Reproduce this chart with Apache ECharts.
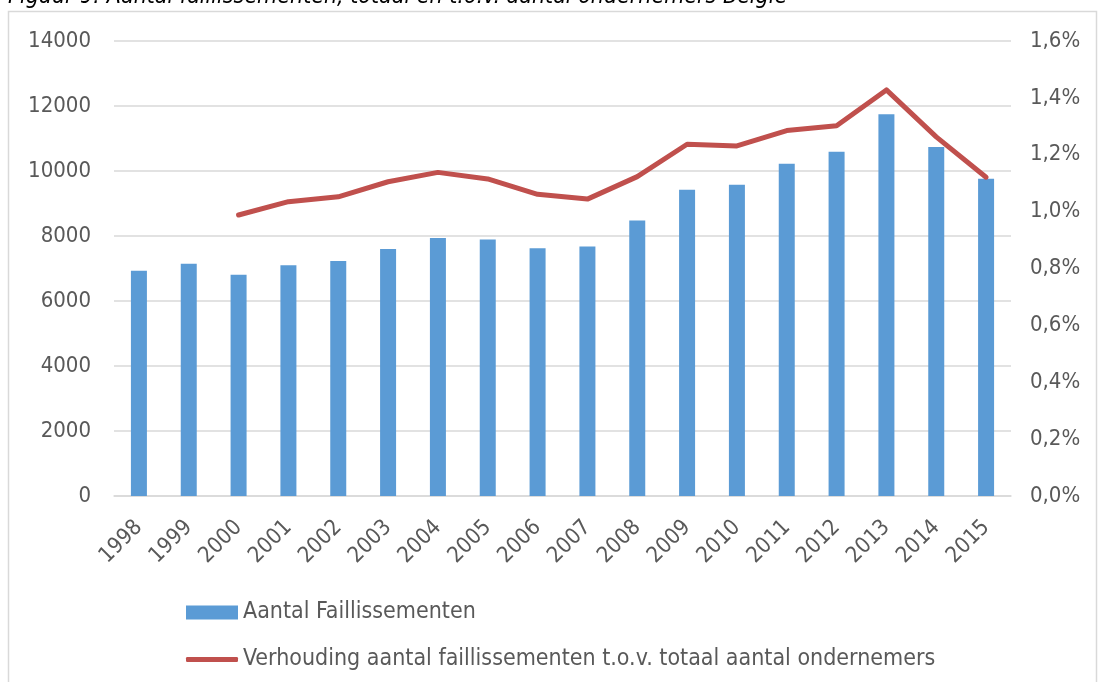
<!DOCTYPE html>
<html>
<head>
<meta charset="utf-8">
<script src="https://cdn.jsdelivr.net/npm/echarts@6/dist/echarts.min.js"></script>
<style>
  html, body { margin: 0; padding: 0; background: #fff; }
  #chart { width: 1099px; height: 682px; }
</style>
</head>
<body>
<div id="chart"></div>
<script>
const years = ['1998', '1999', '2000', '2001', '2002', '2003', '2004', '2005', '2006',
  '2007', '2008', '2009', '2010', '2011', '2012', '2013', '2014', '2015']
// aantal faillissementen
const faillissementen = [6930, 7150, 6810, 7100, 7230, 7600, 7940, 7890, 7620,
  7680, 8480, 9420, 9580, 10220, 10590, 11750, 10740, 9760]
// verhouding t.o.v. totaal aantal ondernemers (%)
const verhouding = [null, null, 0.988, 1.035, 1.052, 1.105, 1.138, 1.115, 1.061,
  1.044, 1.123, 1.237, 1.231, 1.285, 1.302, 1.428, 1.263, 1.121]

const barName = 'Aantal Faillissementen'
const lineName = 'Verhouding aantal faillissementen t.o.v. totaal aantal ondernemers'
const fontFam = 'DejaVu Sans Condensed'
const txtColor = '#595959'

const chart = echarts.init(document.getElementById('chart'))
chart.setOption({
  animation: false,
  textStyle: { fontFamily: fontFam },
  graphic: [
    {
      type: 'rect',
      shape: { x: 8.5, y: 11.5, width: 1088, height: 690 },
      style: { fill: 'none', stroke: '#D9D9D9', lineWidth: 1.5 },
    },
    {
      type: 'text',
      x: 8,
      y: 9,
      style: {
        text: 'Figuur 9: Aantal faillissementen, totaal en t.o.v. aantal ondernemers België',
        font: 'italic 23px "DejaVu Sans Condensed"',
        fill: '#000',
        verticalAlign: 'bottom',
      },
    },
  ],
  grid: { left: 114, right: 88, top: 41, bottom: 186 },
  legend: [
    {
      left: 181,
      top: 596,
      itemWidth: 52,
      itemHeight: 14,
      textStyle: { fontSize: 23, color: txtColor },
      data: [{ name: barName, icon: 'rect' }],
    },
    {
      left: 181,
      top: 643,
      itemWidth: 52,
      itemHeight: 5,
      textStyle: { fontSize: 23, color: txtColor },
      data: [{ name: lineName, icon: 'roundRect' }],
    },
  ],
  xAxis: {
    type: 'category',
    data: years,
    axisTick: { show: false },
    axisLine: { lineStyle: { color: '#D9D9D9', width: 1.5 } },
    axisLabel: { rotate: 45, fontSize: 22, color: txtColor, margin: 28, padding: [0, 0, 0, 0] },
  },
  yAxis: [
    {
      type: 'value',
      min: 0,
      max: 14000,
      interval: 2000,
      axisLine: { show: false },
      axisTick: { show: false },
      splitLine: { lineStyle: { color: '#D9D9D9', width: 1.5 } },
      axisLabel: { fontSize: 22, color: txtColor, margin: 23, formatter: v => String(v) },
    },
    {
      type: 'value',
      min: 0,
      max: 1.6,
      interval: 0.2,
      axisLine: { show: false },
      axisTick: { show: false },
      splitLine: { show: false },
      axisLabel: {
        fontSize: 22,
        color: txtColor,
        margin: 19,
        formatter: v => v.toFixed(1).replace('.', ',') + '%',
      },
    },
  ],
  series: [
    {
      name: barName,
      type: 'bar',
      data: faillissementen,
      barWidth: 16,
      itemStyle: { color: '#5B9BD5' },
    },
    {
      name: lineName,
      type: 'line',
      yAxisIndex: 1,
      data: verhouding,
      symbol: 'none',
      lineStyle: { color: '#C0504D', width: 5, cap: 'round', join: 'round' },
      itemStyle: { color: '#C0504D' },
    },
  ],
})
</script>
</body>
</html>
